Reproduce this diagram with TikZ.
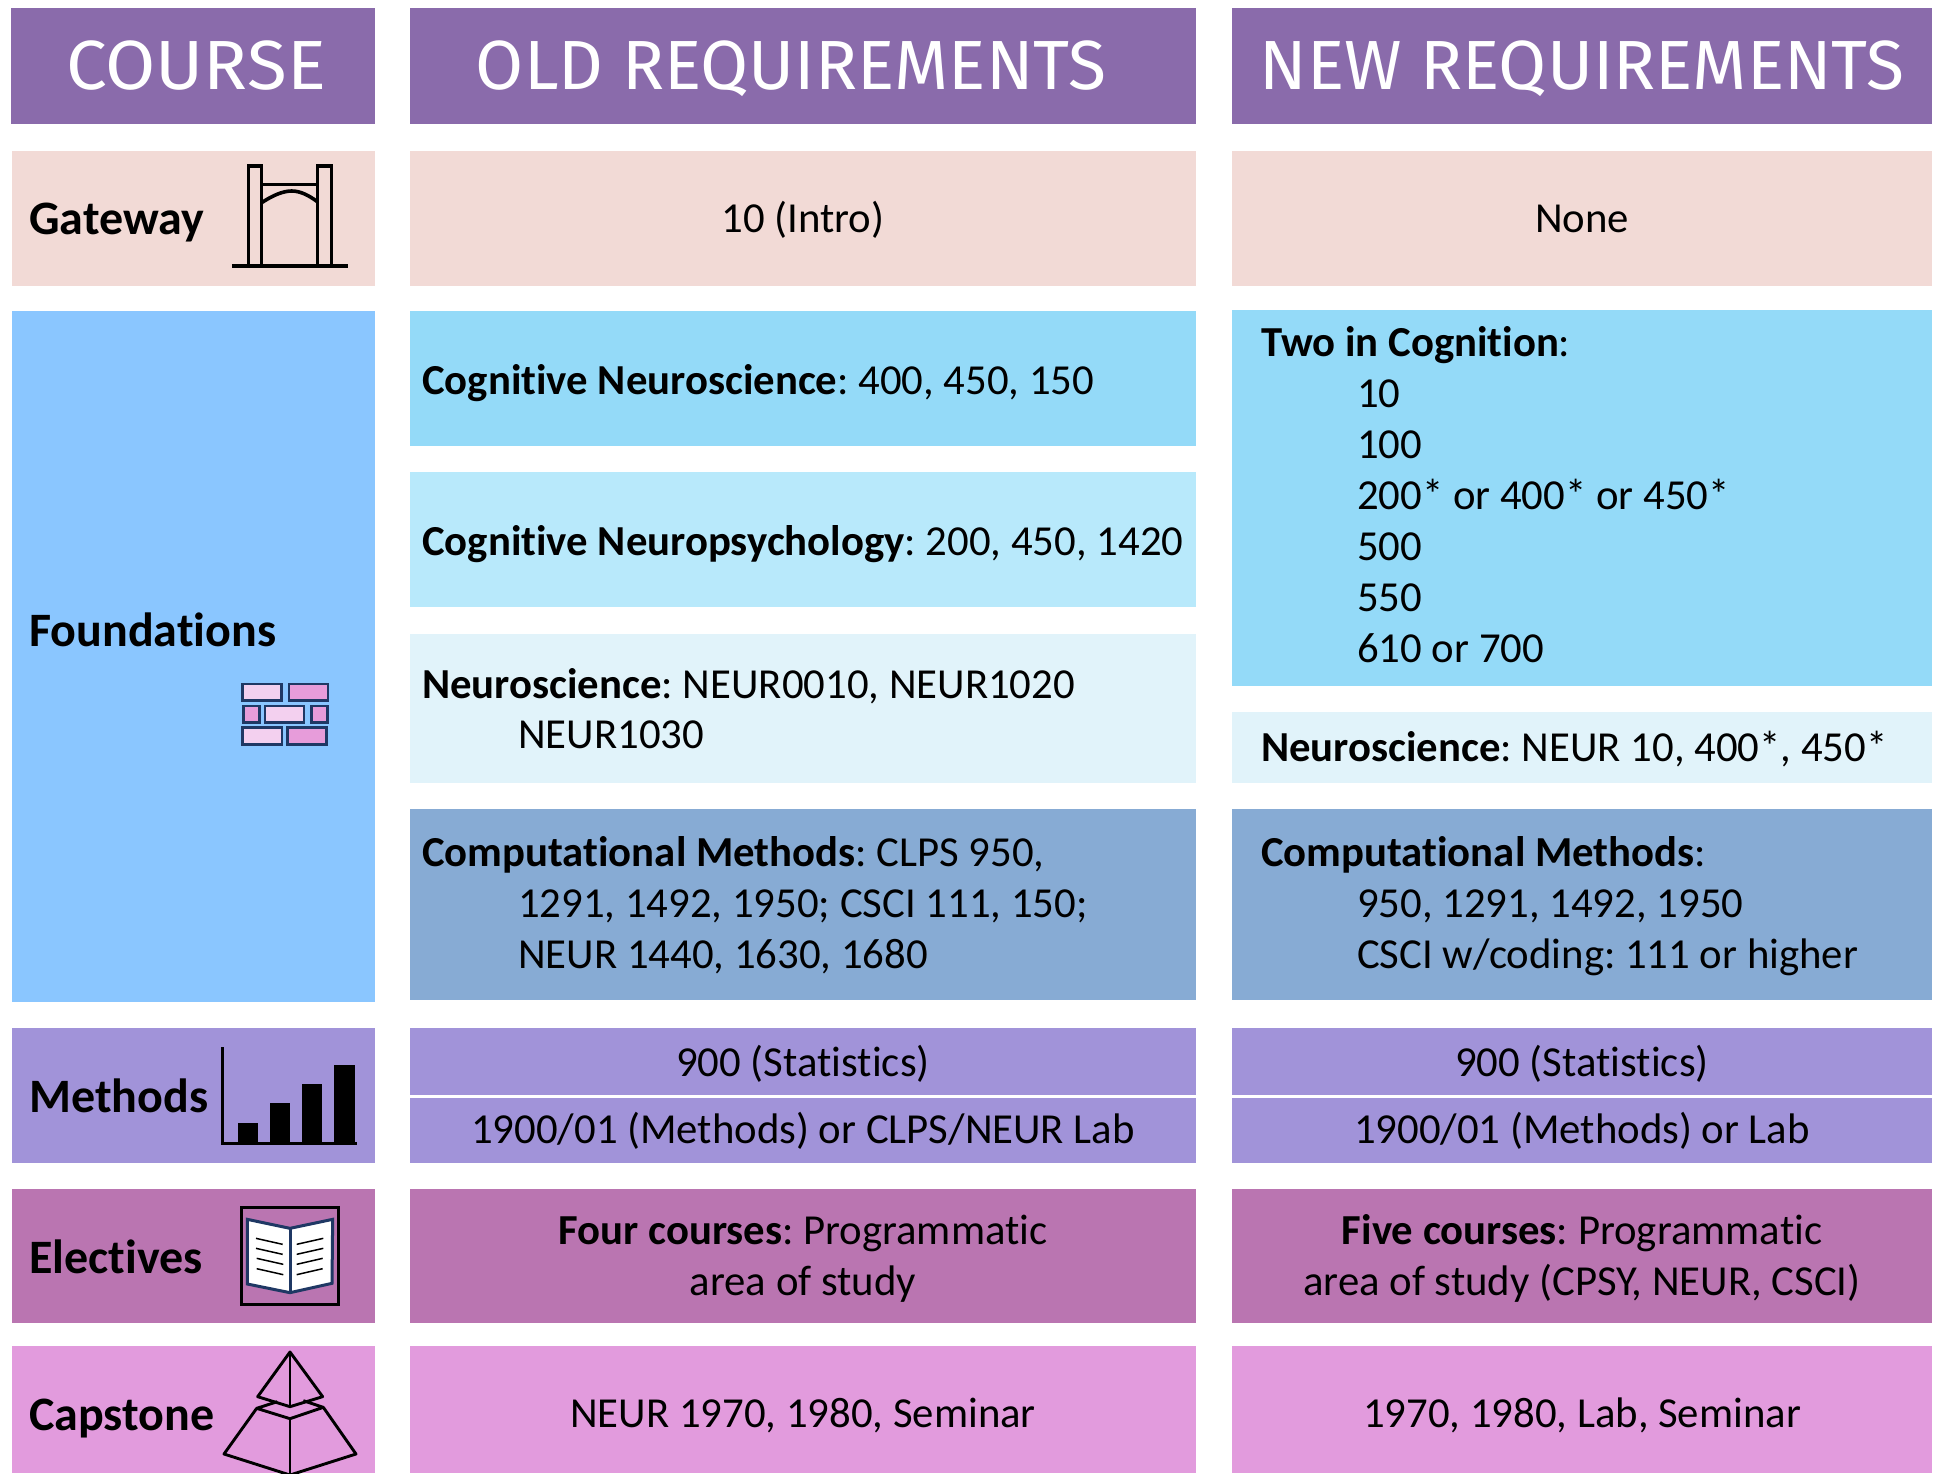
\documentclass[tikz,border=0pt]{standalone}
\usepackage{fontspec}
\usepackage{graphicx}
\setmainfont{Carlito}[Ligatures=NoCommon]
\newfontfamily\hdfont{Fira Sans}
\definecolor{hdc}{HTML}{8A6BAB}
\definecolor{gatec}{HTML}{F2DAD6}
\definecolor{foundc}{HTML}{8AC6FF}
\definecolor{cogc}{HTML}{94DAF8}
\definecolor{psyc}{HTML}{B8E9FB}
\definecolor{neuc}{HTML}{E1F3FA}
\definecolor{compc}{HTML}{87ABD4}
\definecolor{methc}{HTML}{A193D9}
\definecolor{elecc}{HTML}{BA75B1}
\definecolor{capc}{HTML}{E29BDD}
\definecolor{navyc}{HTML}{1F3864}
\definecolor{brlt}{HTML}{F3D0EF}
\definecolor{brdk}{HTML}{E79CDA}
\tikzset{
  band/.style={fill=#1,draw=none},
  hd/.style={text=white,font=\hdfont\fontsize{69.6}{80}\selectfont,inner sep=0pt,anchor=base},
  body/.style={text=black,font=\fontsize{42.75}{51}\selectfont\frenchspacing,inner sep=0pt,align=center,execute at begin node=\strut,execute at end node=\strut},
  lft/.style={text=black,font=\fontsize{42.75}{51}\selectfont\frenchspacing,inner sep=0pt,align=left,anchor=west,execute at begin node=\strut,execute at end node=\strut},
  rowlab/.style={text=black,font=\fontsize{48}{51}\selectfont\bfseries,inner sep=0pt,anchor=base west},
  icon/.style={line width=#1,draw=black,line join=miter},
  brick/.style={fill=#1,draw=navyc,line width=2.8pt},
  leaf/.style={line width=1.5pt,draw=black}
}
\newcommand{\ind}{\hspace*{96pt}}
\begin{document}
\begin{tikzpicture}[x=1pt,y=-1pt]
\useasboundingbox (0,0) rectangle (1939,1473);
% headers
\fill[band=hdc] (11,8) rectangle (375,124);
\fill[band=hdc] (410,8) rectangle (1196,124);
\fill[band=hdc] (1232,8) rectangle (1932,124);
\node[hd] (h1) at (196,89) {\scalebox{1.045}[1]{COURSE}};
\node[hd] (h2) at (791,89) {OLD REQUIREMENTS};
\node[hd] (h3) at (1582,89) {NEW REQUIREMENTS};
% gateway
\fill[band=gatec] (12,151) rectangle (375,286);
\fill[band=gatec] (410,151) rectangle (1196,286);
\fill[band=gatec] (1232,151) rectangle (1932,286);
\node[rowlab] (gl) at (29,234) {Gateway};
\node[body] (g2) at (803,222) {10 (Intro)};
\node[body] (g3) at (1582,222) {None};
% foundations
\fill[band=foundc] (12,311) rectangle (375,1002);
\node[rowlab] (fl) at (29,646) {Foundations};
\fill[band=cogc] (410,311) rectangle (1196,446);
\fill[band=psyc] (410,472) rectangle (1196,607);
\fill[band=neuc] (410,634) rectangle (1196,783);
\fill[band=compc] (410,809) rectangle (1196,1000);
\fill[band=cogc] (1232,310) rectangle (1932,686);
\fill[band=neuc] (1232,712) rectangle (1932,783);
\fill[band=compc] (1232,809) rectangle (1932,1000);
\node[lft] (c1) at (422,384) {\textbf{Cognitive Neuroscience}: 400, 450, 150};
\node[lft] (c2) at (422,545) {\textbf{Cognitive Neuropsychology}: 200, 450, 1420};
\node[lft] (c3) at (422,716) {\textbf{Neuroscience}: NEUR0010, NEUR1020\\[-1pt]\ind NEUR1030};
\node[lft] (c4) at (422,910) {\textbf{Computational Methods}: CLPS 950,\\\ind 1291, 1492, 1950; CSCI 111, 150;\\\ind NEUR 1440, 1630, 1680};
\node[lft] (n1) at (1261,502) {\textbf{Two in Cognition}:\\\ind 10\\\ind 100\\\ind 200* or 400* or 450*\\\ind 500\\\ind 550\\\ind 610 or 700};
\node[lft] (n2) at (1261,751) {\textbf{Neuroscience}: NEUR 10, 400*, 450*};
\node[lft] (n3) at (1261,910) {\textbf{Computational Methods}:\\\ind 950, 1291, 1492, 1950\\\ind CSCI w/coding: 111 or higher};
% methods
\fill[band=methc] (12,1028) rectangle (375,1163);
\fill[band=methc] (410,1028) rectangle (1196,1095);
\fill[band=methc] (410,1098) rectangle (1196,1163);
\fill[band=methc] (1232,1028) rectangle (1932,1095);
\fill[band=methc] (1232,1098) rectangle (1932,1163);
\node[rowlab] (ml) at (29,1112) {Methods};
\node[body] (m2a) at (803,1066) {900 (Statistics)};
\node[body] (m2b) at (803,1133) {1900/01 (Methods) or CLPS/NEUR Lab};
\node[body] (m3a) at (1582,1066) {900 (Statistics)};
\node[body] (m3b) at (1582,1133) {1900/01 (Methods) or Lab};
% electives
\fill[band=elecc] (12,1189) rectangle (375,1323);
\fill[band=elecc] (410,1189) rectangle (1196,1323);
\fill[band=elecc] (1232,1189) rectangle (1932,1323);
\node[rowlab] (el) at (29,1273) {Electives};
\node[body] (e2) at (803,1263) {\textbf{Four courses}: Programmatic\\area of study};
\node[body] (e3) at (1582,1263) {\textbf{Five courses}: Programmatic\\area of study (CPSY, NEUR, CSCI)};
% capstone
\fill[band=capc] (12,1346) rectangle (375,1473);
\fill[band=capc] (410,1346) rectangle (1196,1473);
\fill[band=capc] (1232,1346) rectangle (1932,1473);
\node[rowlab] (cl) at (29,1430) {Capstone};
\node[body] (k2) at (803,1417) {NEUR 1970, 1980, Seminar};
\node[body] (k3) at (1582,1417) {1970, 1980, Lab, Seminar};
% gate icon
\begin{scope}[shift={(0,130)},scale=1/3]
\draw[icon=3.6pt] (745,108) rectangle (785,408);
\draw[icon=3.6pt] (952,108) rectangle (995,408);
\draw[icon=3.6pt] (785,163) -- (952,163);
\draw[icon=3.6pt] (785,218) .. controls (820,195) and (850,183) .. (875,183) .. controls (900,183) and (925,195) .. (952,215);
\draw[icon=3.6pt] (696,408) -- (1043,408);
\end{scope}
% bricks icon
\begin{scope}[shift={(200,660)},scale=1/3]
\draw[brick=brlt] (128,72) rectangle (245,122);
\draw[brick=brdk] (267,72) rectangle (384,122);
\draw[brick=brdk] (130,138) rectangle (178,187);
\draw[brick=brlt] (195,138) rectangle (312,187);
\draw[brick=brdk] (334,138) rectangle (382,187);
\draw[brick=brlt] (128,203) rectangle (246,253);
\draw[brick=brdk] (262,203) rectangle (380,253);
\end{scope}
% chart icon
\begin{scope}[shift={(200,1030)},scale=1/3]
\fill[black] (113,278) rectangle (175,340);
\fill[black] (209,220) rectangle (271,340);
\fill[black] (305,163) rectangle (367,340);
\fill[black] (401,105) rectangle (464,340);
\draw[line width=2.6pt,draw=black] (68,52) -- (68,340) -- (470,340);
\end{scope}
% book icon
\begin{scope}[shift={(200,1190)},scale=1/3]
\draw[icon=2.8pt] (124,52) rectangle (415,344);
\draw[fill=white,draw=navyc,line width=3pt] (142,88) -- (270,115) -- (398,88) -- (396,280) -- (270,308) -- (142,282) -- cycle;
\draw[draw=navyc,line width=3pt] (270,115) -- (270,308);
\draw[leaf] (168,145) -- (248,163);
\draw[leaf] (168,175) -- (248,193);
\draw[leaf] (170,205) -- (250,223);
\draw[leaf] (170,236) -- (250,254);
\draw[leaf] (290,163) -- (370,145);
\draw[leaf] (290,193) -- (370,175);
\draw[leaf] (290,223) -- (368,205);
\draw[leaf] (290,254) -- (368,236);
\end{scope}
% pyramid icon
\begin{scope}[shift={(200,1190)},scale=1/3]
\clip (0,468) rectangle (540,849);
\draw[icon=2.9pt,line join=round] (270,486) -- (173,620) -- (270,650) -- (368,620) -- cycle;
\draw[icon=2.9pt] (270,486) -- (270,650);
\draw[icon=2.9pt,line join=round] (232,635) -- (170,655) -- (270,686) -- (370,652) -- (310,632);
\draw[icon=2.9pt,line join=round] (170,655) -- (72,792) -- (270,855) -- (468,792) -- (370,652);
\draw[icon=2.9pt] (270,686) -- (270,855);
\end{scope}
\end{tikzpicture}
\end{document}
